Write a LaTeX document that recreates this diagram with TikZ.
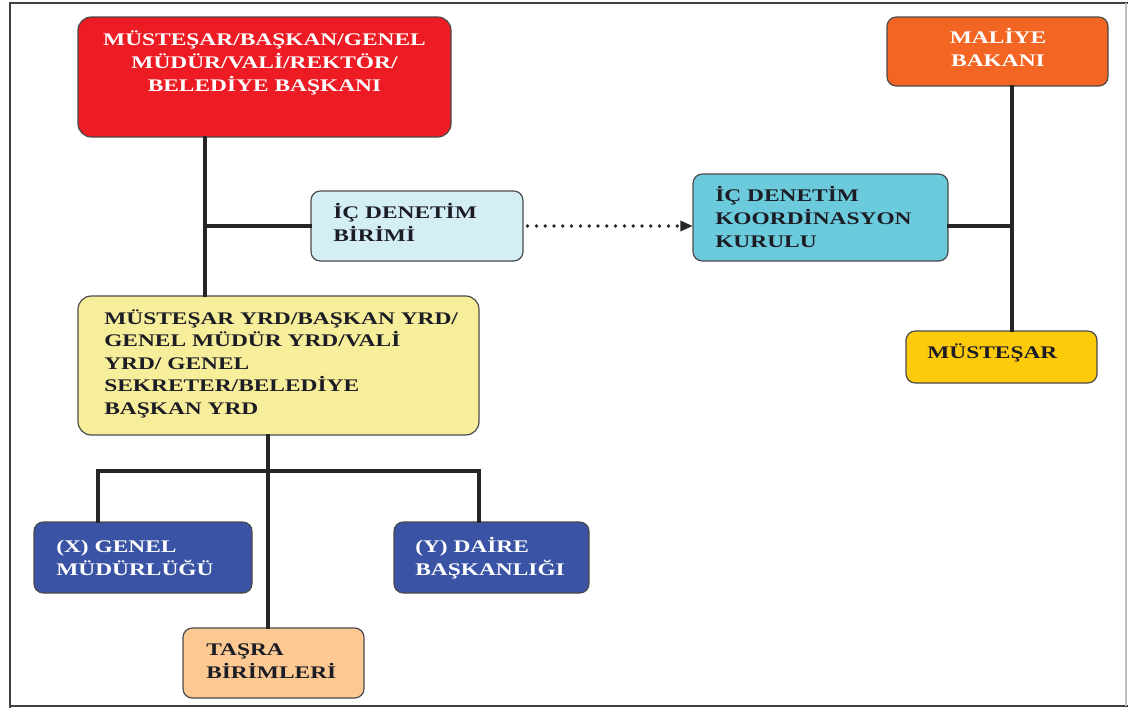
\documentclass[tikz,border=0pt]{standalone}
\usepackage{fontspec}
\newfontfamily\lbl[FakeStretch=1.32]{Liberation Serif}
\usetikzlibrary{fit,arrows.meta}
\definecolor{cRed}{HTML}{ED1C24}
\definecolor{cLblue}{HTML}{D4EEF5}
\definecolor{cCyan}{HTML}{6BCADB}
\definecolor{cOrange}{HTML}{F26522}
\definecolor{cGold}{HTML}{FDCB0A}
\definecolor{cYel}{HTML}{F7EE9B}
\definecolor{cBlue}{HTML}{3A53A4}
\definecolor{cPeach}{HTML}{FCC993}
\definecolor{cTxt}{HTML}{1C1C24}
\definecolor{cEdge}{HTML}{4A4A4A}
\tikzset{
  box/.style={draw=cEdge, line width=0.9pt, rounded corners=7pt, inner sep=0pt, rectangle},
  lbltext/.style={inner sep=0pt, font=\lbl\bfseries\fontsize{13.3}{16.9}\selectfont, text=cTxt},
  whitetext/.style={lbltext, text=white},
  conn/.style={line width=2.3pt, draw=black!85, line cap=rect},
  dots/.style={line width=2.8pt, draw=black!85, line cap=round, dash pattern=on 0pt off 6.6pt},
  frame/.style={line width=2.2pt, draw=black!75}
}
\begin{document}
\begin{tikzpicture}[x=0.75pt,y=-0.75pt]
\useasboundingbox (0,0) rectangle (1128,708);
\fill[white] (0,0) rectangle (1128,708);
% frame
\draw[frame] (10,708) -- (10,3) -- (1128,3);
\draw[frame] (10,706) -- (1128,706);
\draw[line width=0.8pt, draw=black!25] (1126,3) -- (1126,706);

% boxes
\node[box, fill=cRed, rounded corners=10pt, fit={(78,17) (451,137)}] (red) {};
\node[box, fill=cLblue, fit={(311,191) (523,261)}] (idb) {};
\node[box, fill=cCyan, fit={(693,174) (948,261)}] (kur) {};
\node[box, fill=cOrange, fit={(887,17) (1108,86)}] (mal) {};
\node[box, fill=cGold, fit={(906,331) (1097,383)}] (mus) {};
\node[box, fill=cYel, rounded corners=10pt, fit={(78,296) (479,435)}] (yel) {};
\node[box, fill=cBlue, fit={(34,522) (252,593)}] (xg) {};
\node[box, fill=cBlue, fit={(394,522) (589,593)}] (yb) {};
\node[box, fill=cPeach, fit={(183,628) (364,698)}] (tas) {};

% texts (base anchor = baseline of last line)
\node[whitetext, align=center, anchor=base] (redT) at (264.5,91)
  {MÜSTEŞAR/BAŞKAN/GENEL\\MÜDÜR/VALİ/REKTÖR/\\BELEDİYE BAŞKANI};
\node[lbltext, align=left, anchor=base west] (idbT) at (333,241)
  {İÇ DENETİM\\BİRİMİ};
\node[lbltext, align=left, anchor=base west] (kurT) at (715,247)
  {İÇ DENETİM\\KOORDİNASYON\\KURULU};
\node[whitetext, align=center, anchor=base] (malT) at (998,66)
  {MALİYE\\BAKANI};
\node[lbltext, anchor=base west] (musT) at (927,358) {MÜSTEŞAR};
\node[lbltext, align=left, anchor=base west] (yelT) at (104,414.5)
  {MÜSTEŞAR YRD/BAŞKAN YRD/\\GENEL MÜDÜR YRD/VALİ\\YRD/ GENEL\\SEKRETER/BELEDİYE\\BAŞKAN YRD};
\node[whitetext, align=left, anchor=base west] (xgT) at (56,575)
  {(X) GENEL\\MÜDÜRLÜĞÜ};
\node[whitetext, align=left, anchor=base west] (ybT) at (415,575)
  {(Y) DAİRE\\BAŞKANLIĞI};
\node[lbltext, align=left, anchor=base west] (tasT) at (206,678)
  {TAŞRA\\BİRİMLERİ};

% junctions
\coordinate (j1) at (205,226);
\coordinate (j2) at (1012,226);
\coordinate (j3) at (268,471);
\coordinate (jx) at (98,471);
\coordinate (jy) at (479,471);

% connectors
\draw[conn] (red.south -| j1) -- (yel.north -| j1);
\draw[conn] (j1) -- (idb.west);
\draw[dots] ([xshift=3pt]idb.east) -- ([xshift=-9pt]idb.east -| kur.west);
\draw[draw=none, fill=black!85] (idb.east -| kur.west) -- ++(-12,-5.5) -- ++(0,11) -- cycle;
\draw[conn] (mal.south -| j2) -- (mus.north -| j2);
\draw[conn] (kur.east |- j2) -- (j2);
\draw[conn] (yel.south -| j3) -- (tas.north -| j3);
\draw[conn] (xg.north -| jx) -- (jx) -- (jy) -- (yb.north -| jy);
\end{tikzpicture}
\end{document}
